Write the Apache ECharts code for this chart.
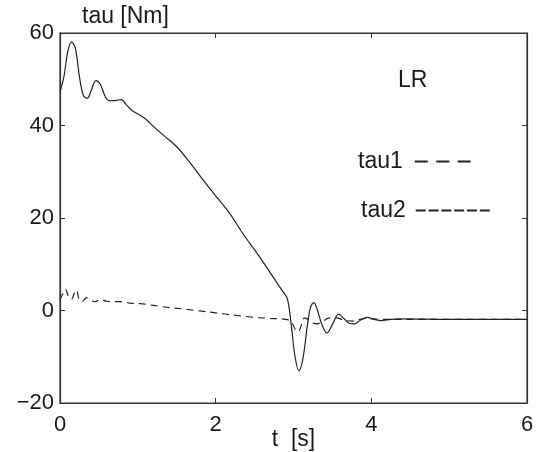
<!DOCTYPE html>
<html>
<head>
<meta charset="utf-8">
<title>tau</title>
<script src="https://cdn.jsdelivr.net/npm/echarts@6/dist/echarts.min.js"></script>
<style>
  html, body { margin: 0; padding: 0; background: #fff; }
  #main { width: 538px; height: 452px; }
</style>
</head>
<body>
<div id="main"></div>
<script>
// tau2 (solid)
var tau2Time = [0, 0.05, 0.1, 0.15, 0.2, 0.25, 0.3, 0.35, 0.4, 0.46, 0.52, 0.58, 0.63, 0.7, 0.79, 0.85, 0.93, 1.0, 1.1, 1.2, 1.35, 1.5, 1.65, 1.84, 2.0, 2.18, 2.35, 2.53, 2.7, 2.85, 2.92, 2.97, 3.02, 3.07, 3.12, 3.18, 3.22, 3.26, 3.3, 3.36, 3.43, 3.5, 3.58, 3.65, 3.72, 3.78, 3.86, 3.95, 4.03, 4.13, 4.25, 4.4, 5.0, 6.0];
var tau2Values = [47.3, 50.5, 56, 58.1, 56.5, 50.5, 46.5, 45.9, 47.5, 49.7, 48.8, 46.3, 45.4, 45.4, 45.6, 44.5, 43.2, 42.5, 41.4, 39.8, 37.6, 35.4, 32.4, 28.2, 24.8, 21.0, 16.6, 12.4, 8.2, 4.4, 2.6, -3, -10, -13.0, -10.5, -3, 0.8, 1.7, 0.5, -2.8, -4.9, -3, -0.8, -1.8, -2.8, -2.9, -2.1, -1.5, -1.9, -2.2, -1.9, -1.8, -1.9, -1.9];
// tau1 (dashed)
var tau1Time = [0, 0.04, 0.07, 0.11, 0.15, 0.18, 0.21, 0.25, 0.29, 0.34, 0.39, 0.45, 0.52, 0.6, 0.7, 0.8, 0.9, 1.03, 1.2, 1.37, 1.6, 1.8, 2.0, 2.23, 2.45, 2.66, 2.9, 2.97, 3.02, 3.06, 3.1, 3.14, 3.18, 3.23, 3.3, 3.38, 3.46, 3.55, 3.65, 3.75, 3.85, 3.95, 4.1, 4.5, 6.0];
var tau1Values = [2.3, 3.8, 4.6, 3.0, 2.5, 3.6, 4.4, 2.2, 2.0, 2.8, 2.3, 1.9, 2.4, 2.0, 1.9, 1.9, 1.6, 1.5, 1.1, 0.7, 0.3, -0.1, -0.5, -1.0, -1.4, -1.7, -1.9, -2.4, -4.0, -4.6, -3.2, -1.6, -1.9, -2.6, -2.9, -2.3, -1.6, -1.6, -2.1, -2.3, -1.9, -1.7, -1.9, -1.9, -1.9];
var xTicks = [0, 2, 4, 6];
var yTicks = [-20, 0, 20, 40, 60];

(function () {
  var chartDom = document.getElementById('main');
  var myChart = echarts.init(chartDom);
  var option;
  var font = 'Liberation Sans, Arial, Helvetica, sans-serif';
  var ink = '#1a1a1a';

  function pairs(xs, ys) {
    var out = [];
    for (var i = 0; i < xs.length; i++) {
      out.push([xs[i], ys[i]]);
    }
    return out;
  }
  function minus(v) {
    return String(v).replace('-', '\u2212');
  }

  var xBase = {
    type: 'value',
    min: xTicks[0],
    max: xTicks[xTicks.length - 1],
    interval: xTicks[1] - xTicks[0],
    splitLine: { show: false },
    axisLine: { show: true, onZero: false, lineStyle: { color: '#333', width: 1.2 } },
    axisTick: { show: true, inside: true, length: 5, lineStyle: { color: '#333' } }
  };
  var yBase = {
    type: 'value',
    min: yTicks[0],
    max: yTicks[yTicks.length - 1],
    interval: yTicks[1] - yTicks[0],
    splitLine: { show: false },
    axisLine: { show: true, onZero: false, lineStyle: { color: '#333', width: 1.2 } },
    axisTick: { show: true, inside: true, length: 5, lineStyle: { color: '#333' } }
  };

  option = {
    backgroundColor: '#fff',
    animation: false,
    textStyle: { fontFamily: font },
    title: [
      {
        text: 'tau [Nm]',
        left: 82,
        top: 5,
        padding: 0,
        textStyle: { fontFamily: font, fontSize: 23, fontWeight: 'normal', color: ink }
      },
      {
        text: 'LR',
        left: 398,
        top: 69,
        padding: 0,
        textStyle: { fontFamily: font, fontSize: 23, fontWeight: 'normal', color: ink }
      }
    ],
    legend: [
      {
        data: [{ name: 'tau1', lineStyle: { type: [13, 8.5] } }],
        left: 358,
        top: 150,
        align: 'right',
        padding: 0,
        itemWidth: 56,
        itemHeight: 12,
        itemStyle: { opacity: 0 },
        textStyle: { fontFamily: font, fontSize: 23, color: ink, padding: [0, 7, 0, 0] }
      },
      {
        data: [{ name: 'tau2', lineStyle: { type: [10, 2.8] } }],
        left: 361,
        top: 199,
        align: 'right',
        padding: 0,
        itemWidth: 74,
        itemHeight: 12,
        itemStyle: { opacity: 0 },
        textStyle: { fontFamily: font, fontSize: 23, color: ink, padding: [0, 5, 0, 0] }
      }
    ],
    grid: {
      left: 60,
      right: 11,
      top: 33,
      bottom: 49,
      outerBoundsMode: 'none',
      show: true,
      borderColor: '#333',
      borderWidth: 1.2
    },
    xAxis: [
      Object.assign({}, xBase, {
        position: 'bottom',
        name: 't  [s]',
        nameLocation: 'middle',
        nameGap: 25,
        nameMoveOverlap: false,
        nameTextStyle: { fontFamily: font, fontSize: 23, color: ink },
        axisLabel: { fontFamily: font, fontSize: 22, color: ink, margin: 11 }
      }),
      Object.assign({}, xBase, {
        position: 'top',
        axisLabel: { show: false }
      })
    ],
    yAxis: [
      Object.assign({}, yBase, {
        position: 'left',
        axisLabel: {
          fontFamily: font, fontSize: 22, color: ink, margin: 6,
          formatter: function (v) { return minus(v); }
        }
      }),
      Object.assign({}, yBase, {
        position: 'right',
        axisLabel: { show: false }
      })
    ],
    series: [
      {
        name: 'tau1',
        type: 'line',
        showSymbol: false,
        symbol: 'none',
        smooth: 0.35,
        data: pairs(tau1Time, tau1Values),
        lineStyle: { color: '#222', width: 1.2, type: [7, 5] },
        itemStyle: { color: '#222' },
        z: 3
      },
      {
        name: 'tau2',
        type: 'line',
        showSymbol: false,
        symbol: 'none',
        smooth: 0.35,
        data: pairs(tau2Time, tau2Values),
        lineStyle: { color: '#222', width: 1.2 },
        itemStyle: { color: '#222' },
        z: 4
      }
    ]
  };

  option && myChart.setOption(option);

  window.addEventListener('resize', function () {
    myChart.resize();
  });
})();
</script>
</body>
</html>
